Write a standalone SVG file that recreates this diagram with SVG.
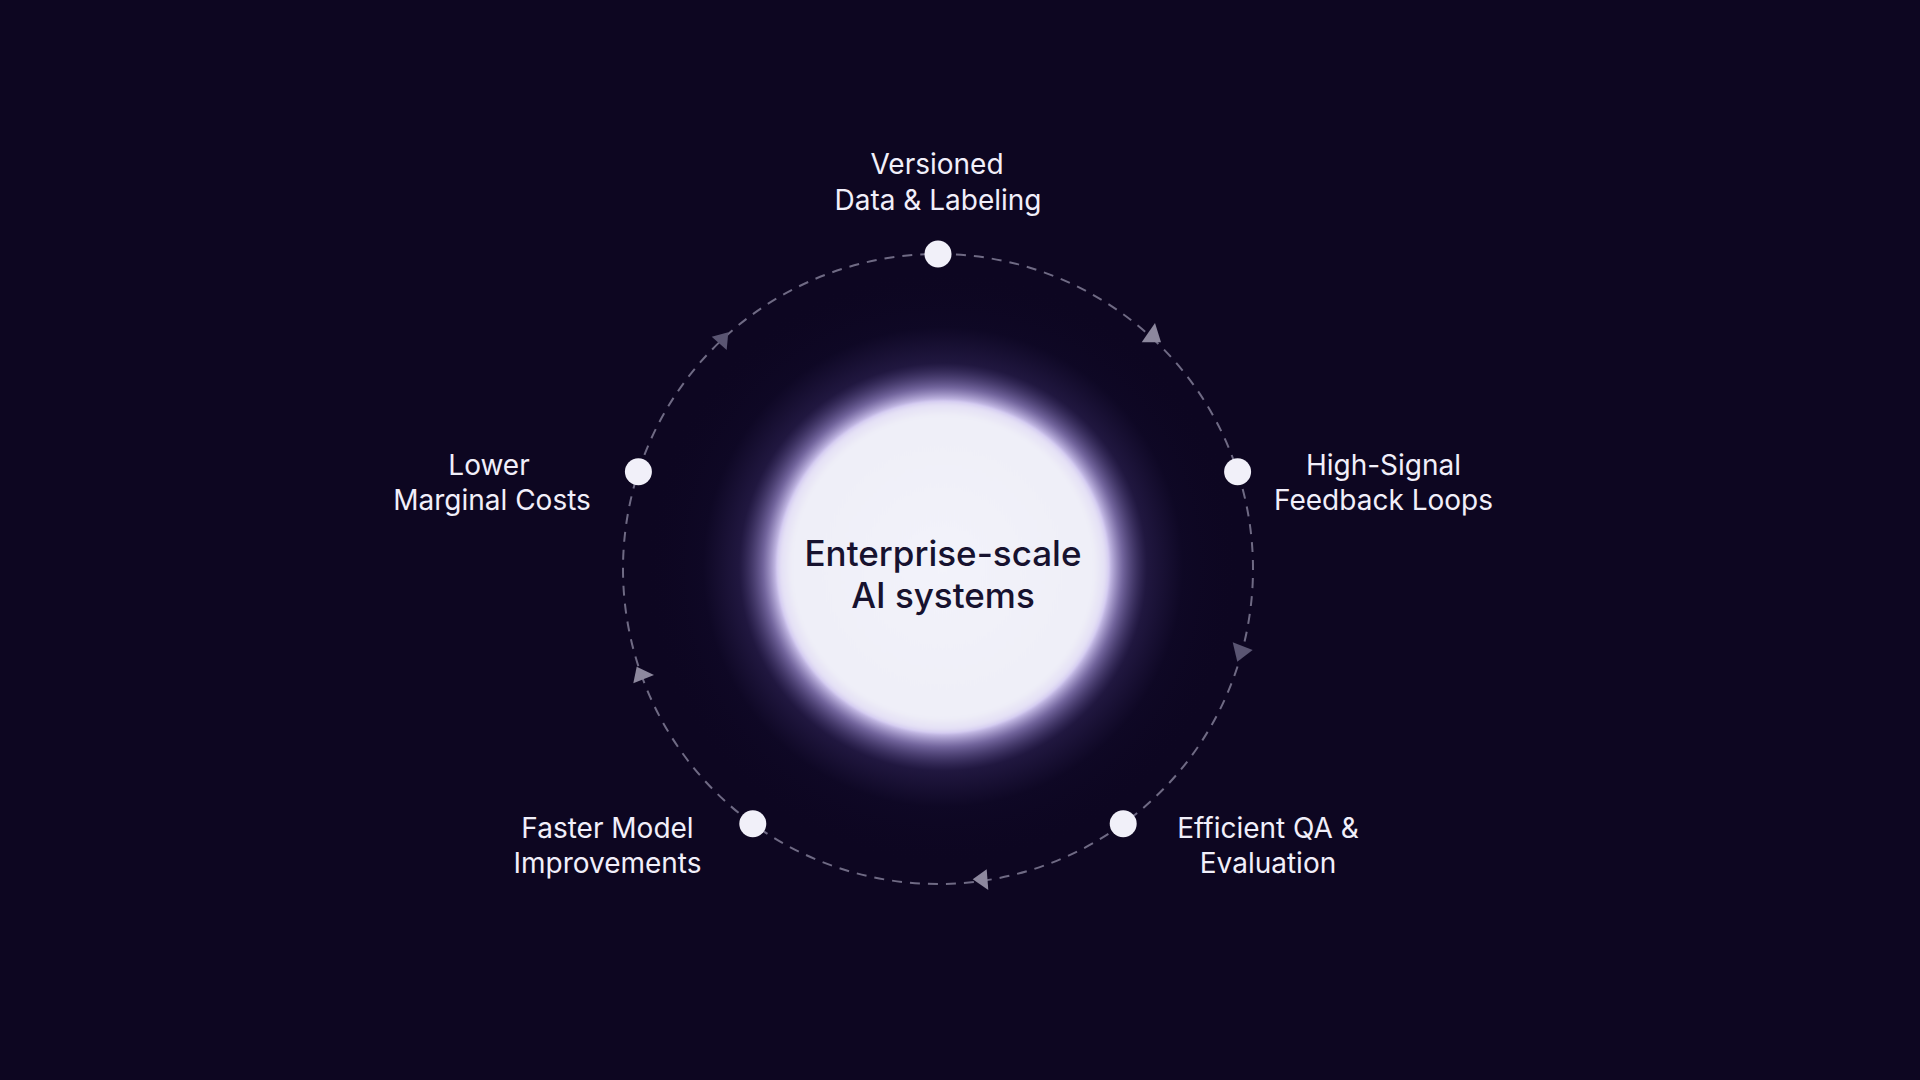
<svg xmlns="http://www.w3.org/2000/svg" width="1920" height="1080" viewBox="0 0 1920 1080">
  <defs>
    <style>
      .label { font-family: Inter, "Noto Sans", "Liberation Sans", sans-serif; font-size: 28px; fill: #f1effa; text-anchor: middle; }
      .center-text { font-family: Inter, "Noto Sans", "Liberation Sans", sans-serif; font-size: 35px; font-weight: 500; fill: #17122f; text-anchor: middle; }
      .ring { fill: none; stroke: #6f6a84; stroke-width: 2; stroke-dasharray: 10 8; }
      .dot { fill: #f1f0f9; }
      .arrow { fill: #8d889e; }
      .arrow-dim { fill: #5a5572; }
    </style>
    <radialGradient id="glow" cx="943" cy="567" r="300" gradientUnits="userSpaceOnUse">
      <stop offset="0" stop-color="#e8e4fa" stop-opacity="1"/>
      <stop offset="0.55" stop-color="#d6cdf4" stop-opacity="1"/>
      <stop offset="0.6" stop-color="#9c8cd0" stop-opacity="0.7"/>
      <stop offset="0.68" stop-color="#4d3f86" stop-opacity="0.3"/>
      <stop offset="0.8" stop-color="#120c2e" stop-opacity="0.3"/>
      <stop offset="1" stop-color="#0d0621" stop-opacity="0"/>
    </radialGradient>
    <radialGradient id="core" cx="943" cy="567" r="167" gradientUnits="userSpaceOnUse">
      <stop offset="0" stop-color="#f3f3fa"/>
      <stop offset="0.9" stop-color="#efeff8"/>
      <stop offset="0.97" stop-color="#e4e0f5"/>
      <stop offset="1" stop-color="#cfc6ee"/>
    </radialGradient>
    <filter id="soft" x="-10%" y="-10%" width="120%" height="120%">
      <feGaussianBlur stdDeviation="1.2"/>
    </filter>
  </defs>

  <rect x="0" y="0" width="1920" height="1080" fill="#0d0621"/>

  <g id="center-node">
    <circle cx="943" cy="567" r="300" fill="url(#glow)"/>
    <circle cx="943" cy="567" r="166" fill="url(#core)" filter="url(#soft)"/>
    <text class="center-text" x="943" y="566">Enterprise-scale</text>
    <text class="center-text" x="943" y="608">AI systems</text>
  </g>

  <g id="connectors">
    <path class="ring" d="M938,254 A315,315 0 0 1 1237.6,471.7"/>
    <path class="ring" d="M1237.6,471.7 A315,315 0 0 1 1123.2,823.8"/>
    <path class="ring" d="M1123.2,823.8 A315,315 0 0 1 752.8,823.8"/>
    <path class="ring" d="M752.8,823.8 A315,315 0 0 1 638.4,471.7"/>
    <path class="ring" d="M638.4,471.7 A315,315 0 0 1 938,254"/>
    <polygon class="arrow" points="1155,323 1141.7,342.3 1161,342.3"/>
    <polygon class="arrow-dim" points="1232.7,642.3 1252.7,650 1237.3,661.7"/>
    <polygon class="arrow" points="972.7,879.3 986.7,869.3 988.3,890"/>
    <polygon class="arrow" points="636.7,666.7 654,675 633.3,683.3"/>
    <polygon class="arrow-dim" points="711.7,336.7 728.3,332.3 726.7,350"/>
  </g>

  <g id="node-versioned-data">
    <circle class="dot" cx="938" cy="254" r="13.5"/>
    <text class="label" x="937" y="174">Versioned</text>
    <text class="label" x="938" y="210">Data &amp; Labeling</text>
  </g>

  <g id="node-feedback-loops">
    <circle class="dot" cx="1237.6" cy="471.7" r="13.5"/>
    <text class="label" x="1383.5" y="475">High-Signal</text>
    <text class="label" x="1383.5" y="510">Feedback Loops</text>
  </g>

  <g id="node-qa-evaluation">
    <circle class="dot" cx="1123.2" cy="823.8" r="13.5"/>
    <text class="label" x="1268" y="838">Efficient QA &amp;</text>
    <text class="label" x="1268" y="873">Evaluation</text>
  </g>

  <g id="node-model-improvements">
    <circle class="dot" cx="752.8" cy="823.8" r="13.5"/>
    <text class="label" x="607.5" y="838">Faster Model</text>
    <text class="label" x="607.5" y="873">Improvements</text>
  </g>

  <g id="node-marginal-costs">
    <circle class="dot" cx="638.4" cy="471.7" r="13.5"/>
    <text class="label" x="489" y="475">Lower</text>
    <text class="label" x="492" y="510">Marginal Costs</text>
  </g>
</svg>
